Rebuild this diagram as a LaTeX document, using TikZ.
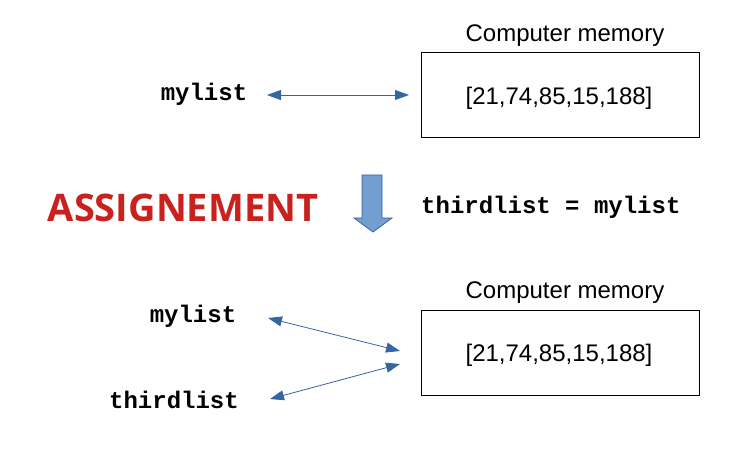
\documentclass[tikz,border=0pt]{standalone}
\usepackage{fontspec}
\setmainfont{Liberation Sans}
\setmonofont{Liberation Mono}
\newfontfamily\assignfont{Open Sans}
\usetikzlibrary{arrows.meta}
\definecolor{arrblue}{HTML}{3465A4}
\definecolor{arrfill}{HTML}{729FCF}
\definecolor{assignred}{HTML}{C9211E}
\tikzset{
  membox/.style={draw=black, line width=1pt, minimum width=278pt, minimum height=85pt, inner sep=0pt, font=\fontsize{24}{28}\selectfont},
  memlabel/.style={font=\fontsize{24}{28}\selectfont, inner sep=0pt},
  varname/.style={font=\fontsize{24}{28}\selectfont\ttfamily\bfseries, inner sep=0pt},
  link/.style={draw=arrblue, line width=0.8pt, {Triangle[length=14pt,width=10pt]}-{Triangle[length=14pt,width=10pt]}},
}
\begin{document}
\begin{tikzpicture}[x=1pt,y=-1pt]
\useasboundingbox (0,0) rectangle (753,454);
% top
\node[memlabel] (cm1) at (565,36) {Computer memory};
\node[membox] (box1) at (560,95.5) {};
\node[memlabel] (val1) at (559,98) {[21,74,85,15,188]};
\node[varname, anchor=base] (ml1) at (204,101) {mylist};
\coordinate (a1s) at (267,95);
\coordinate (a1e) at (409,95);
\draw[link] (a1s) -- (a1e);
% middle
\node[font=\fontsize{38}{44}\selectfont\assignfont\bfseries, text=assignred, inner sep=0pt] (asg) at (183,208) {ASSIGNEMENT};
\draw[draw=arrblue, fill=arrfill, line width=0.8pt] (362,175) -- (382,175) -- (382,218) -- (392,218) -- (373,232) -- (354,218) -- (362,218) -- cycle;
\node[varname, anchor=base west] (stmt) at (421,214) {thirdlist = mylist};
% bottom
\node[memlabel] (cm2) at (565,293) {Computer memory};
\node[membox] (box2) at (560,353) {};
\node[memlabel] (val2) at (559,355) {[21,74,85,15,188]};
\node[varname, anchor=base] (ml2) at (193,323) {mylist};
\node[varname, anchor=base] (tl2) at (174,409) {thirdlist};
\coordinate (b1s) at (268,318);
\coordinate (b1e) at (400,351);
\coordinate (b2s) at (270,399);
\coordinate (b2e) at (400,364);
\draw[link] (b1s) -- (b1e);
\draw[link] (b2s) -- (b2e);
\end{tikzpicture}
\end{document}
